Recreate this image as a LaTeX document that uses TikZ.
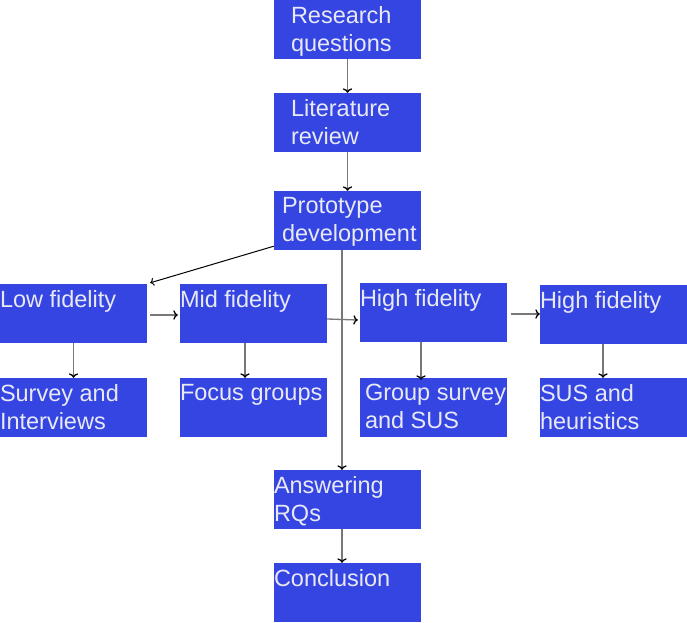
\documentclass[tikz,border=0pt]{standalone}
\usepackage{fontspec}
\setmainfont{Liberation Sans}
\usepackage{xcolor}
\usepackage{tikz}
\usetikzlibrary{arrows.meta, positioning, calc}
\definecolor{boxblue}{RGB}{52,69,226}
\definecolor{boxtext}{RGB}{232,233,245}
\definecolor{linegray}{RGB}{120,120,120}
\tikzstyle{stage} = [rectangle, minimum width=147pt, minimum height=59pt, inner sep=0pt, fill=boxblue]
\tikzstyle{txt} = [anchor=north west, inner xsep=0pt, inner ysep=6pt, align=left, text=boxtext, font=\fontsize{23.5}{28}\selectfont]
\tikzstyle{arrow} = [draw=linegray, line width=1.3pt, -{To[color=black]}]

\begin{document}
\begin{tikzpicture}[x=1pt, y=-1pt, node distance=93pt]
        \useasboundingbox (0,0) rectangle (687,622);
        \node (rq) [stage, label={[txt, xshift=17pt]north west:Research\\questions}] at (347.5,29.5) {};
        \node (lit) [stage, below of=rq, label={[txt, xshift=17pt]north west:Literature\\review}] {};
        \node (proto) [stage, below of=lit, yshift=-5pt, label={[txt, xshift=8pt]north west:Prototype\\development}] {};
        \node (low) [stage, below of=proto, xshift=-274pt, label={[txt]north west:Low fidelity}] {};
        \node (mid) [stage, right of=low, xshift=87pt, label={[txt]north west:Mid fidelity}] {};
        \node (high1) [stage, right of=mid, xshift=87pt, yshift=1pt, label={[txt]north west:High fidelity}] {};
        \node (high2) [stage, right of=high1, xshift=87pt, yshift=-2pt, label={[txt]north west:High fidelity}] {};
        \node (survey) [stage, below of=low, yshift=-1pt, label={[txt]north west:Survey and\\Interviews}] {};
        \node (focus) [stage, below of=mid, yshift=-1pt, label={[txt]north west:Focus groups}] {};
        \node (group) [stage, below of=high1, yshift=-2pt, label={[txt, xshift=5pt]north west:Group survey\\and SUS}] {};
        \node (sus) [stage, below of=high2, label={[txt]north west:SUS and\\heuristics}] {};
        \node (answer) [stage, below of=proto, yshift=-186pt, label={[txt]north west:Answering\\RQs}] {};
        \node (concl) [stage, below of=answer, label={[txt]north west:Conclusion}] {};

        \draw [arrow] (rq) -- (lit);
        \draw [arrow] (lit) -- (proto);
        \draw [arrow, draw=black, line width=1pt] ([yshift=4pt]proto.south west) -- ([xshift=3pt, yshift=1pt]low.north east);
        \draw [arrow] ([xshift=-5.5pt]proto.south) -- ([xshift=-5.5pt]answer.north);
        \draw [arrow] ([xshift=-5.5pt]answer.south) -- ([xshift=-5.5pt]concl.north);
        \draw [arrow] ([xshift=3pt, yshift=-1.5pt]low.east) -- ([xshift=-2pt, yshift=-1.5pt]mid.west);
        \draw [arrow] ([yshift=-5.5pt]mid.east) -- ([xshift=-2pt, yshift=-7.5pt]high1.west);
        \draw [arrow] ([xshift=4pt, yshift=-1.5pt]high1.east) -- ([yshift=0.5pt]high2.west);
        \draw [arrow] (low) -- (survey);
        \draw [arrow] ([xshift=-8.5pt]mid.south) -- ([xshift=-8.5pt]focus.north);
        \draw [arrow] ([xshift=-12.5pt]high1.south) -- ([xshift=-12.5pt, yshift=-2pt]group.north);
        \draw [arrow] ([xshift=-10.5pt]high2.south) -- ([xshift=-10.5pt]sus.north);
    \end{tikzpicture}
\end{document}
